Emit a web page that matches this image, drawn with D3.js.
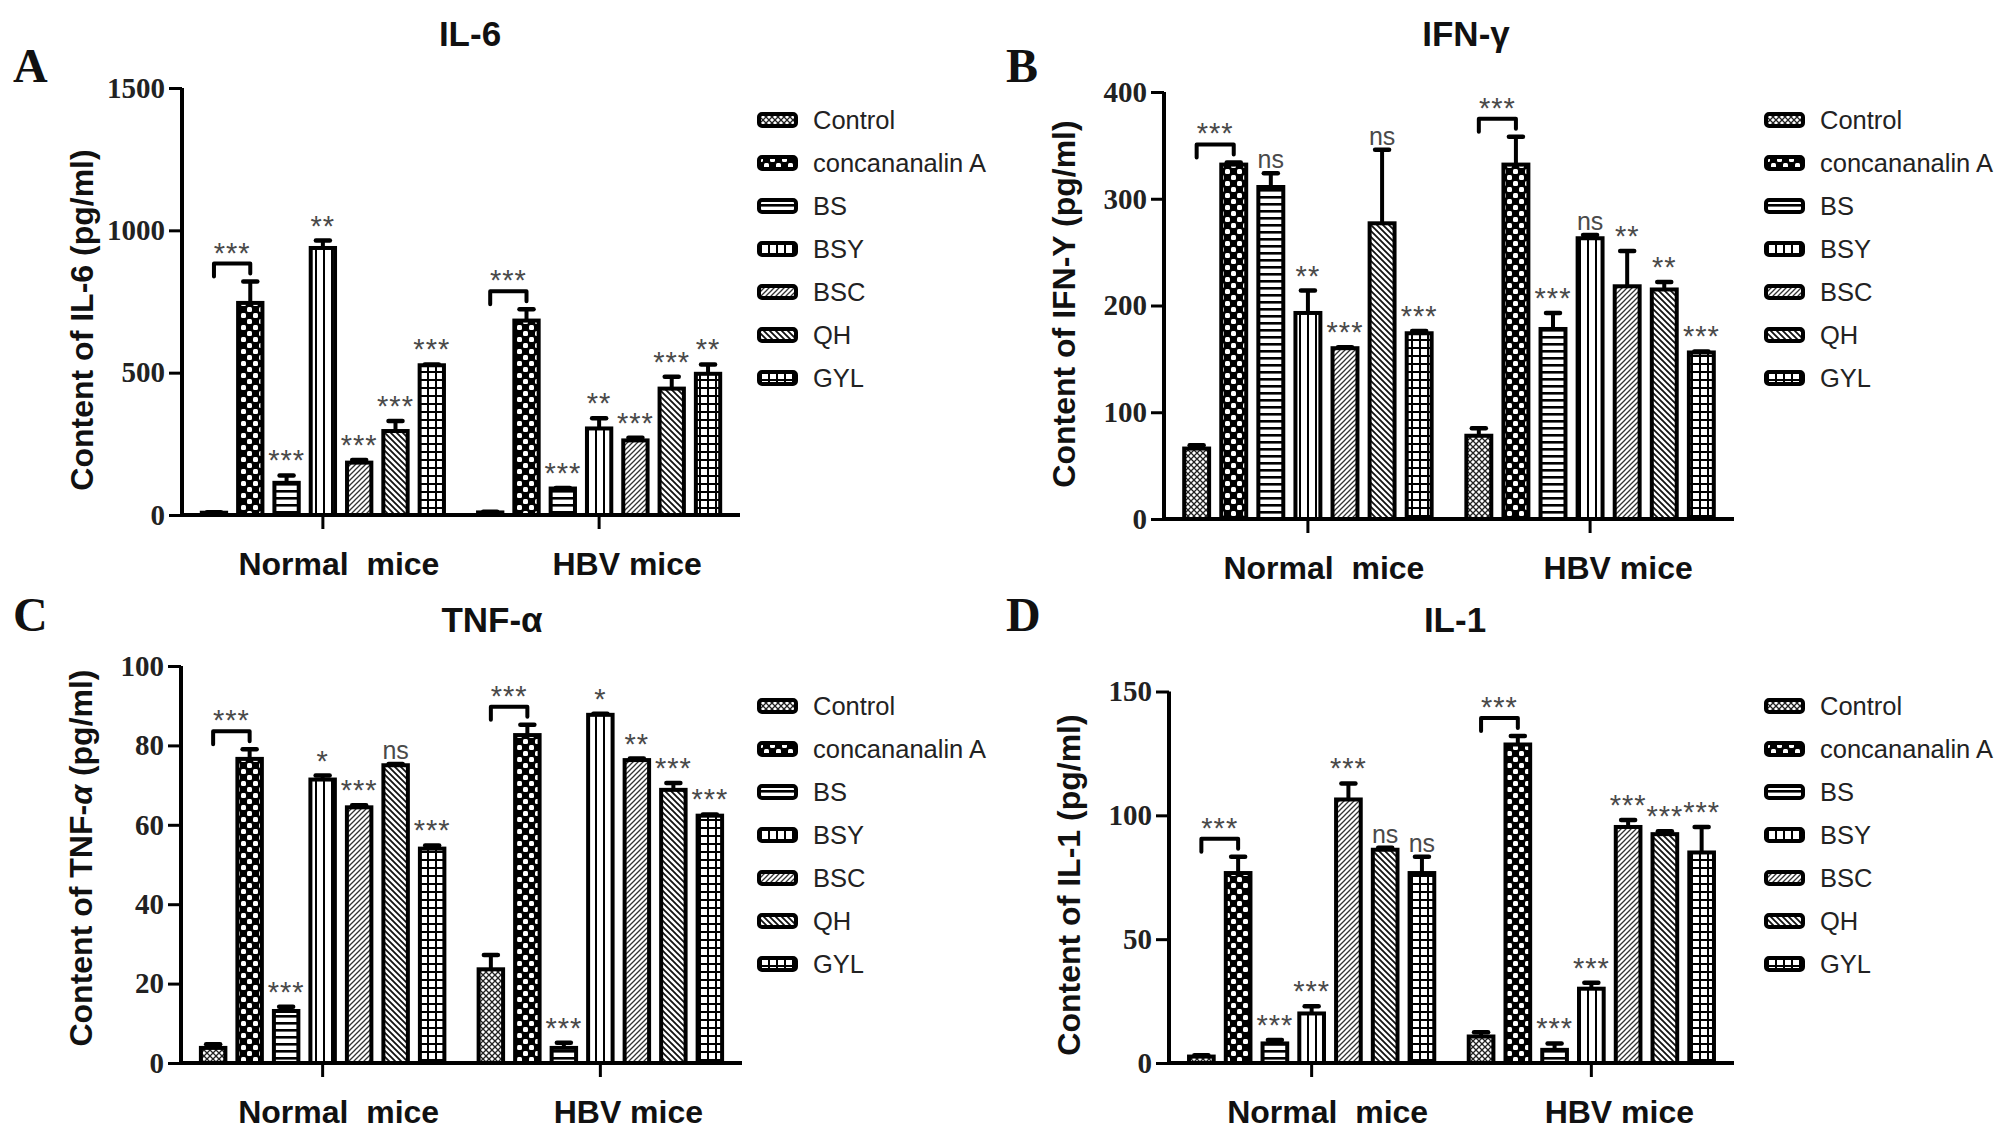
<!DOCTYPE html>
<html>
<head>
<meta charset="utf-8">
<script src="https://cdn.jsdelivr.net/npm/d3@7"></script>
<style>
  body { margin: 0; background: #fff; }
  text { font-family: "Liberation Sans", Arial, sans-serif; }
</style>
</head>
<body>
<div id="chart"></div>
<script>
const groups = ["Normal  mice", "HBV mice"];
const series = ["Control", "concananalin A", "BS", "BSY", "BSC", "QH", "GYL"];

// IL-6 (pg/ml)
const il6Ticks = [0, 500, 1000, 1500];
const il6Normal = [8, 745, 113, 938, 184, 295, 526];
const il6NormalErr = [2, 75, 26, 26, 9, 35, 3];
const il6Hbv = [9, 683, 93, 304, 262, 444, 496];
const il6HbvErr = [2, 40, 2, 36, 9, 42, 33];
const il6NormalSig = ["", "***", "***", "**", "***", "***", "***"];
const il6HbvSig = ["", "***", "***", "**", "***", "***", "**"];

// IFN-γ (pg/ml)
const ifnTicks = [0, 100, 200, 300, 400];
const ifnNormal = [66, 332, 311, 193, 160, 277, 174];
const ifnNormalErr = [3, 2, 13, 21, 1, 69, 2];
const ifnHbv = [78, 332, 178, 263, 218, 215, 156];
const ifnHbvErr = [7, 26, 15, 3, 33, 7, 1];
const ifnNormalSig = ["", "***", "ns", "**", "***", "ns", "***"];
const ifnHbvSig = ["", "***", "***", "ns", "**", "**", "***"];

// TNF-α (pg/ml)
const tnfTicks = [0, 20, 40, 60, 80, 100];
const tnfNormal = [3.8, 76.6, 13.1, 71.4, 64.4, 75, 54];
const tnfNormalErr = [0.9, 2.4, 1.1, 1, 0.5, 0.3, 0.8];
const tnfHbv = [23.6, 82.6, 3.8, 87.7, 76.3, 68.8, 62.3];
const tnfHbvErr = [3.6, 2.6, 1.3, 0.3, 0.4, 1.7, 0.3];
const tnfNormalSig = ["", "***", "***", "*", "***", "ns", "***"];
const tnfHbvSig = ["", "***", "***", "*", "**", "***", "***"];

// IL-1 (pg/ml)
const il1Ticks = [0, 50, 100, 150];
const il1Normal = [2.6, 76.7, 7.9, 20, 106.4, 86.1, 76.7];
const il1NormalErr = [0.5, 6.6, 1.4, 2.9, 6.5, 0.8, 6.6];
const il1Hbv = [10.7, 128.6, 5.3, 30, 95.3, 92.4, 85];
const il1HbvErr = [1.7, 3.4, 2.6, 2.4, 2.8, 1.2, 10.3];
const il1NormalSig = ["", "***", "***", "***", "***", "ns", "ns"];
const il1HbvSig = ["", "***", "***", "***", "***", "***", "***"];

const width = 2008;
const height = 1135;

const svg = d3.select("#chart")
  .append("svg")
  .attr("width", width)
  .attr("height", height);

svg.append("rect").attr("width", width).attr("height", height).attr("fill", "#fff");

// fill patterns, one per treatment
const defs = svg.append("defs");
const patternIds = ["p-control", "p-cona", "p-bs", "p-bsy", "p-bsc", "p-qh", "p-gyl"];

function makePattern(id, w, h, draw) {
  const p = defs.append("pattern")
    .attr("id", id)
    .attr("patternUnits", "userSpaceOnUse")
    .attr("width", w)
    .attr("height", h);
  p.append("rect").attr("width", w).attr("height", h).attr("fill", "#fff");
  draw(p);
}

makePattern("p-control", 6, 6, (p) => {
  p.append("path").attr("d", "M0,0L6,6M6,0L0,6").attr("stroke", "#222").attr("stroke-width", 1.3);
});
makePattern("p-cona", 12, 12, (p) => {
  p.select("rect").attr("fill", "#000");
  p.append("rect").attr("x", 1).attr("y", 1).attr("width", 5).attr("height", 5).attr("rx", 1.5).attr("fill", "#fff");
  p.append("rect").attr("x", 7).attr("y", 7).attr("width", 5).attr("height", 5).attr("rx", 1.5).attr("fill", "#fff");
});
makePattern("p-bs", 8, 7, (p) => {
  p.append("rect").attr("y", 0).attr("width", 8).attr("height", 2.6).attr("fill", "#000");
});
makePattern("p-bsy", 8, 8, (p) => {
  p.append("rect").attr("x", 3).attr("width", 2).attr("height", 8).attr("fill", "#000");
});
makePattern("p-bsc", 5, 5, (p) => {
  p.append("path").attr("d", "M-1,6L6,-1M-1,1L1,-1M4,6L6,4").attr("stroke", "#333").attr("stroke-width", 1.3);
});
makePattern("p-qh", 6, 6, (p) => {
  p.append("path").attr("d", "M-1,-1L7,7M-1,5L1,7M5,-1L7,1").attr("stroke", "#111").attr("stroke-width", 1.8);
});
makePattern("p-gyl", 8, 8, (p) => {
  p.append("rect").attr("x", 3).attr("width", 2).attr("height", 8).attr("fill", "#000");
  p.append("rect").attr("y", 3).attr("width", 8).attr("height", 2).attr("fill", "#000");
});

const panels = [
  {
    title: "IL-6", letter: "A", ylabel: "Content of IL-6 (pg/ml)",
    ticks: il6Ticks, values: [il6Normal, il6Hbv], errs: [il6NormalErr, il6HbvErr], sig: [il6NormalSig, il6HbvSig],
    left: 182, right: 740, y0: 515, yTop: 88,
    titleX: 470, titleY: 46, letterX: 13, letterY: 82, legendX: 757, legendY: 120, labelY: 320
  },
  {
    title: "IFN-γ", letter: "B", ylabel: "Content of IFN-Y (pg/ml)",
    ticks: ifnTicks, values: [ifnNormal, ifnHbv], errs: [ifnNormalErr, ifnHbvErr], sig: [ifnNormalSig, ifnHbvSig],
    left: 1164, right: 1734, y0: 519, yTop: 92,
    titleX: 1466, titleY: 46, letterX: 1006, letterY: 82, legendX: 1764, legendY: 120, labelY: 304
  },
  {
    title: "TNF-α", letter: "C", ylabel: "Content of TNF-α (pg/ml)",
    ticks: tnfTicks, values: [tnfNormal, tnfHbv], errs: [tnfNormalErr, tnfHbvErr], sig: [tnfNormalSig, tnfHbvSig],
    left: 181, right: 742, y0: 1063, yTop: 666,
    titleX: 492, titleY: 632, letterX: 13, letterY: 631, legendX: 757, legendY: 706, labelY: 858
  },
  {
    title: "IL-1", letter: "D", ylabel: "Content of IL-1 (pg/ml)",
    ticks: il1Ticks, values: [il1Normal, il1Hbv], errs: [il1NormalErr, il1HbvErr], sig: [il1NormalSig, il1HbvSig],
    left: 1169, right: 1734, y0: 1063, yTop: 691.5,
    titleX: 1455, titleY: 632, letterX: 1006, letterY: 631, legendX: 1764, legendY: 706, labelY: 885
  }
];

// group labels sit a little right of their tick in the original
const groupLabelShift = [16, 28];

const drawPanel = (cfg) => {
  const g = svg.append("g");

  const y = d3.scaleLinear()
    .domain([0, d3.max(cfg.ticks)])
    .range([cfg.y0, cfg.yTop]);

  const x0 = d3.scaleBand()
    .domain(groups)
    .range([cfg.left, cfg.right])
    .paddingInner(0.08)
    .paddingOuter(0.05);

  const x1 = d3.scaleBand()
    .domain(series)
    .range([0, x0.bandwidth()])
    .paddingInner(0.22)
    .paddingOuter(0.11);

  const rows = [];
  groups.forEach((grp, gi) => {
    series.forEach((s, si) => {
      rows.push({
        group: grp, gi, si, name: s,
        value: cfg.values[gi][si],
        err: cfg.errs[gi][si],
        sig: cfg.sig[gi][si],
        cx: x0(grp) + x1(s) + x1.bandwidth() / 2
      });
    });
  });

  const barW = x1.bandwidth() - 4;

  // bars
  g.selectAll(".bar")
    .data(rows)
    .join("rect")
    .attr("x", (d) => d.cx - barW / 2)
    .attr("y", (d) => y(d.value))
    .attr("width", barW)
    .attr("height", (d) => Math.max(0, cfg.y0 - y(d.value)))
    .attr("fill", (d) => `url(#${patternIds[d.si]})`)
    .attr("stroke", "#000")
    .attr("stroke-width", 4);

  // error bars (upper whisker only)
  g.selectAll(".err")
    .data(rows)
    .join("line")
    .attr("x1", (d) => d.cx)
    .attr("x2", (d) => d.cx)
    .attr("y1", (d) => y(d.value))
    .attr("y2", (d) => y(d.value + d.err))
    .attr("stroke", "#000")
    .attr("stroke-width", 4);

  g.selectAll(".cap")
    .data(rows)
    .join("line")
    .attr("x1", (d) => d.cx - 7)
    .attr("x2", (d) => d.cx + 7)
    .attr("y1", (d) => y(d.value + d.err))
    .attr("y2", (d) => y(d.value + d.err))
    .attr("stroke", "#000")
    .attr("stroke-width", 4.5)
    .attr("stroke-linecap", "round");

  // axes
  const yAxis = d3.axisLeft(y)
    .tickValues(cfg.ticks)
    .tickFormat(d3.format("d"))
    .tickSize(13)
    .tickPadding(4);
  const ya = g.append("g")
    .attr("transform", `translate(${cfg.left},0)`)
    .call(yAxis);
  ya.select(".domain").attr("stroke-width", 4).attr("d", `M0,${cfg.yTop}V${cfg.y0}`);
  ya.selectAll(".tick line").attr("stroke-width", 3);
  ya.selectAll(".tick text")
    .style("font-family", "'Liberation Serif', 'Times New Roman', serif")
    .style("font-weight", "bold")
    .style("font-size", "29px")
    .attr("fill", "#222");

  const xa = g.append("g")
    .attr("transform", `translate(0,${cfg.y0})`)
    .call(d3.axisBottom(x0).tickSize(14).tickFormat(""));
  xa.select(".domain").attr("stroke-width", 4).attr("d", `M${cfg.left - 2},0H${cfg.right}`);
  xa.selectAll(".tick line").attr("stroke-width", 3);

  g.selectAll(".grplabel")
    .data(groups)
    .join("text")
    .attr("x", (d, i) => x0(d) + x0.bandwidth() / 2 + groupLabelShift[i])
    .attr("y", cfg.y0 + 60)
    .attr("text-anchor", "middle")
    .style("white-space", "pre")
    .style("font-size", "32px")
    .style("font-weight", "bold")
    .attr("fill", "#111")
    .text((d) => d);

  // significance marks above bars
  g.selectAll(".sig")
    .data(rows.filter((d) => d.si > 1 && d.sig))
    .join("text")
    .attr("x", (d) => d.cx)
    .attr("y", (d) => y(d.value + d.err) - 5)
    .attr("text-anchor", "middle")
    .style("font-size", (d) => (d.sig === "ns" ? "25px" : "29px"))
    .style("letter-spacing", (d) => (d.sig === "ns" ? "0px" : "1px"))
    .attr("fill", "#4a4a4a")
    .text((d) => d.sig);

  // brackets Control vs concananalin A
  groups.forEach((grp, gi) => {
    const a = rows.find((d) => d.gi === gi && d.si === 0);
    const b = rows.find((d) => d.gi === gi && d.si === 1);
    const top = y(b.value + b.err) - 18;
    g.append("path")
      .attr("d", `M${a.cx},${top + 13}V${top}H${b.cx}V${top + 10}`)
      .attr("fill", "none")
      .attr("stroke", "#000")
      .attr("stroke-width", 4)
      .attr("stroke-linecap", "round")
      .attr("stroke-linejoin", "round");
    g.append("text")
      .attr("x", (a.cx + b.cx) / 2)
      .attr("y", top - 1)
      .attr("text-anchor", "middle")
      .style("font-size", "29px")
      .style("letter-spacing", "1px")
      .attr("fill", "#4a4a4a")
      .text(b.sig);
  });

  // y label
  const yl = g.append("text")
    .attr("transform", `translate(${cfg.left - 89},${cfg.labelY}) rotate(-90)`)
    .attr("text-anchor", "middle")
    .style("font-size", "32px")
    .style("font-weight", "bold")
    .attr("fill", "#111");
  if (cfg.letter === "C") {
    yl.append("tspan").text("Content of TNF-");
    yl.append("tspan").style("font-style", "italic").text("α");
    yl.append("tspan").text(" (pg/ml)");
  } else {
    yl.text(cfg.ylabel);
  }

  // title
  g.append("text")
    .attr("x", cfg.titleX)
    .attr("y", cfg.titleY)
    .attr("text-anchor", "middle")
    .style("font-size", "35px")
    .style("font-weight", "bold")
    .attr("fill", "#111")
    .text(cfg.title);

  // panel letter
  g.append("text")
    .attr("x", cfg.letterX)
    .attr("y", cfg.letterY)
    .style("font-family", "'Liberation Serif', 'Times New Roman', serif")
    .style("font-size", "48px")
    .style("font-weight", "bold")
    .attr("fill", "#111")
    .text(cfg.letter);

  // legend
  const legend = g.append("g")
    .attr("transform", `translate(${cfg.legendX},${cfg.legendY})`);

  legend.selectAll("rect")
    .data(series)
    .join("rect")
    .attr("x", 2)
    .attr("y", (d, i) => i * 43 - 6)
    .attr("width", 37)
    .attr("height", 12)
    .attr("rx", 3)
    .attr("fill", (d, i) => `url(#${patternIds[i]})`)
    .attr("stroke", "#000")
    .attr("stroke-width", 4);

  legend.selectAll("text")
    .data(series)
    .join("text")
    .attr("x", 56)
    .attr("y", (d, i) => i * 43 + 9)
    .style("font-size", "25.5px")
    .attr("fill", "#222")
    .text((d) => d);
};

panels.forEach(drawPanel);
</script>
</body>
</html>
